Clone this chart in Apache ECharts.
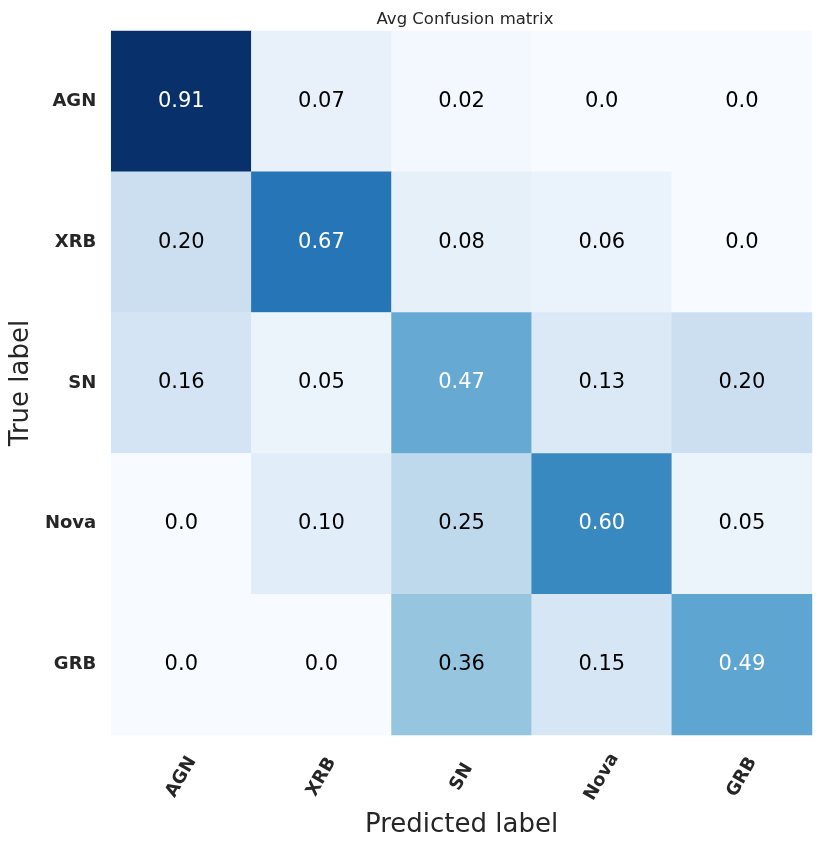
<!DOCTYPE html>
<html>
<head>
<meta charset="utf-8">
<script src="https://cdn.jsdelivr.net/npm/echarts@6/dist/echarts.min.js"></script>
<style>
  html, body { margin: 0; padding: 0; background: #fff; }
  #chart { width: 830px; height: 845px; }
</style>
</head>
<body>
<div id="chart"></div>
<script>
// class names, same order on both axes
var classes = ['AGN', 'XRB', 'SN', 'Nova', 'GRB'];

// rows = true label, columns = predicted label
var rowAGN  = [0.91, 0.07, 0.02, 0.0, 0.0];
var rowXRB  = [0.20, 0.67, 0.08, 0.06, 0.0];
var rowSN   = [0.16, 0.05, 0.47, 0.13, 0.20];
var rowNova = [0.0, 0.10, 0.25, 0.60, 0.05];
var rowGRB  = [0.0, 0.0, 0.36, 0.15, 0.49];

var matrix = [rowAGN, rowXRB, rowSN, rowNova, rowGRB];

// matplotlib "Blues"
var blues = ['#f7fbff', '#deebf7', '#c6dbef', '#9ecae1', '#6baed6',
             '#4292c6', '#2171b5', '#08519c', '#08306b'];

var vmax = 0.91;
var thresh = vmax / 2;

var cells = [];
matrix.forEach(function (row, i) {
    row.forEach(function (v, j) {
        cells.push({
            value: [j, i, v],
            label: { color: v > thresh ? '#ffffff' : '#000000' }
        });
    });
});

var font = 'DejaVu Sans';
var chart = echarts.init(document.getElementById('chart'));

chart.setOption({
    animation: false,
    textStyle: { fontFamily: font },
    title: {
        text: 'Avg Confusion matrix',
        left: 460,
        top: 6,
        textAlign: 'center',
        textStyle: { fontFamily: font, fontSize: 16.5, fontWeight: 'normal', color: '#262626' }
    },
    grid: { left: 108, top: 31, width: 704, height: 704 },
    xAxis: {
        type: 'category',
        data: classes,
        name: 'Predicted label',
        nameLocation: 'middle',
        nameGap: 77,
        nameTextStyle: { fontFamily: font, fontSize: 26, color: '#262626' },
        axisLine: { show: false },
        axisTick: { show: false },
        splitArea: { show: false },
        axisLabel: {
            rotate: 60,
            align: 'center',
            verticalAlign: 'middle',
            margin: 42,
            fontFamily: font,
            fontSize: 18,
            fontWeight: 'bold',
            color: '#262626'
        }
    },
    yAxis: {
        type: 'category',
        data: classes,
        inverse: true,
        name: 'True label',
        nameLocation: 'middle',
        nameGap: 74,
        nameTextStyle: { fontFamily: font, fontSize: 26, color: '#262626' },
        axisLine: { show: false },
        axisTick: { show: false },
        splitArea: { show: false },
        axisLabel: {
            margin: 15,
            fontFamily: font,
            fontSize: 18,
            fontWeight: 'bold',
            color: '#262626'
        }
    },
    visualMap: {
        show: false,
        type: 'continuous',
        dimension: 2,
        min: 0,
        max: vmax,
        inRange: { color: blues }
    },
    series: [{
        type: 'heatmap',
        data: cells,
        label: {
            show: true,
            fontFamily: font,
            fontSize: 21,
            formatter: function (p) {
                var v = p.value[2];
                return v === 0 ? '0.0' : v.toFixed(2);
            }
        },
        itemStyle: { borderWidth: 0 },
        emphasis: { disabled: true }
    }]
});
</script>
</body>
</html>
